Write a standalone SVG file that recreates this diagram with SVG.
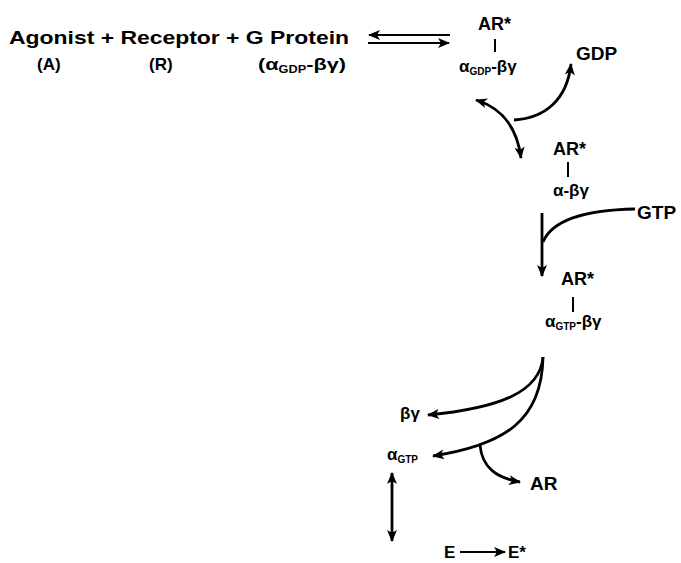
<svg xmlns="http://www.w3.org/2000/svg" width="681" height="563" viewBox="0 0 681 563">
<style>
 .t{font-family:"Liberation Sans",Arial,sans-serif;font-weight:bold;fill:#000;font-size:17px}
 .b{font-size:19px}
 .h{font-size:18px}
 .s{font-size:10px}
 .c{fill:none;stroke:#000;stroke-width:2.8}
 .th{fill:none;stroke:#000;stroke-width:2.2}
 .tk{stroke:#000;stroke-width:2}
</style>
<defs>
 <marker id="ah" viewBox="0 0 12 10" refX="11" refY="5" markerWidth="13" markerHeight="10" markerUnits="userSpaceOnUse" orient="auto-start-reverse"><path d="M0,0 L12,5 L0,10 L3,5 z" fill="#000"/></marker>
</defs>
<g id="reactants">
 <text class="t h" x="9" y="44" textLength="340" lengthAdjust="spacingAndGlyphs">Agonist + Receptor + G Protein</text>
 <text class="t" x="37" y="70">(A)</text>
 <text class="t" x="149" y="70">(R)</text>
 <text class="t" x="258" y="70" textLength="88" lengthAdjust="spacingAndGlyphs">(α<tspan class="s" dy="3">GDP</tspan><tspan dy="-3">-βγ)</tspan></text>
</g>
<g id="complex1">
 <text class="t h" x="478" y="30">AR*</text>
 <line class="tk" x1="495" y1="39" x2="495" y2="52"/>
 <text class="t" x="459" y="72">α<tspan class="s" dy="3">GDP</tspan><tspan dy="-3">-βγ</tspan></text>
</g>
<g id="gdp"><text class="t b" x="576" y="60">GDP</text></g>
<g id="complex2">
 <text class="t h" x="553" y="155">AR*</text>
 <line class="tk" x1="568" y1="162" x2="568" y2="177"/>
 <text class="t" x="553" y="196">α-βγ</text>
</g>
<g id="gtp"><text class="t b" x="637" y="219">GTP</text></g>
<g id="complex3">
 <text class="t h" x="561" y="285">AR*</text>
 <line class="tk" x1="573" y1="297" x2="573" y2="312"/>
 <text class="t" x="545" y="327">α<tspan class="s" dy="3">GTP</tspan><tspan dy="-3">-βγ</tspan></text>
</g>
<g id="betagamma"><text class="t" x="400" y="419">βγ</text></g>
<g id="alphaGTP"><text class="t" x="387" y="460">α<tspan class="s" dy="3">GTP</tspan></text></g>
<g id="ar"><text class="t b" x="530" y="490">AR</text></g>
<g id="e"><text class="t" x="444" y="558">E</text></g>
<g id="estar"><text class="t" x="508" y="558">E*</text></g>
<g id="connectors">
 <line class="th" x1="450" y1="35" x2="369" y2="35" marker-end="url(#ah)"/>
 <line class="th" x1="368" y1="43" x2="449" y2="43" marker-end="url(#ah)"/>
 <path class="c" d="M476,100 Q515,112 521,158" marker-start="url(#ah)" marker-end="url(#ah)"/>
 <path class="c" d="M514,120 C545,118 567,100 571,64" marker-end="url(#ah)"/>
 <path class="c" d="M635,209 C585,210 552,220 543,242"/>
 <path class="c" d="M542,213 L542,276" marker-end="url(#ah)"/>
 <path class="c" d="M543,357 C540,392 500,408 428,415" marker-end="url(#ah)"/>
 <path class="c" d="M543,357 C542,420 505,445 433,456" marker-end="url(#ah)"/>
 <path class="c" d="M480,445 C482,468 497,478 520,482" marker-end="url(#ah)"/>
 <path class="c" d="M392,473 L392,541" marker-start="url(#ah)" marker-end="url(#ah)"/>
 <path class="th" d="M460,552 L505,552" marker-end="url(#ah)"/>
</g>
</svg>
